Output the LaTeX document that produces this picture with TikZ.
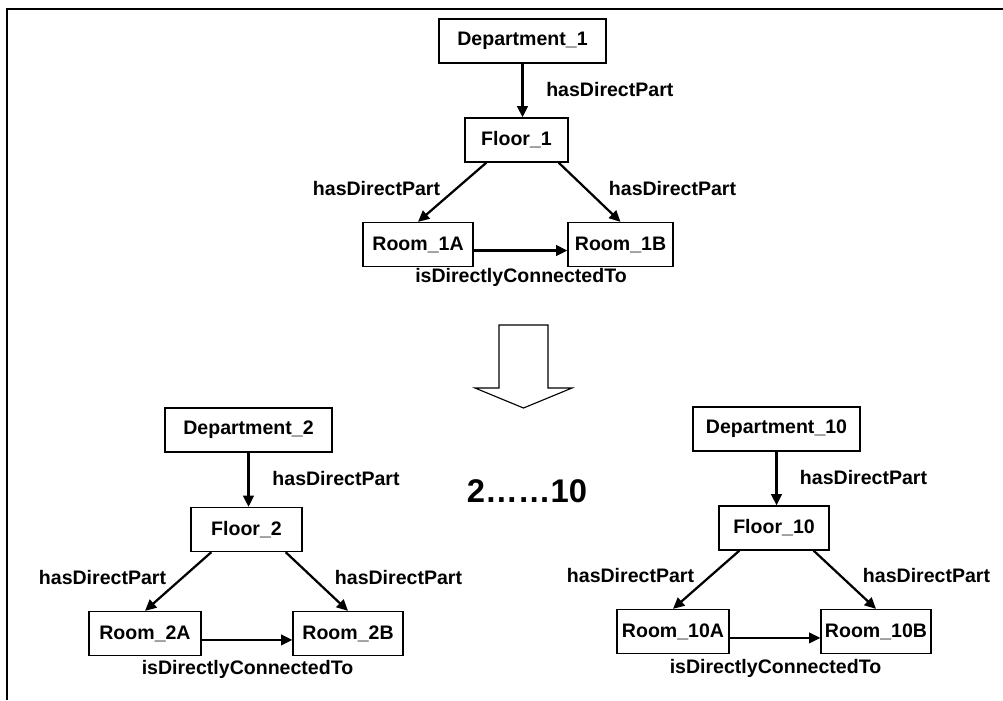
\documentclass[tikz,border=0pt]{standalone}
\usepackage{fontspec}
\setmainfont{Liberation Sans}
\usetikzlibrary{positioning, arrows.meta, calc}

\begin{document}
\begin{tikzpicture}[x=0.025cm, y=-0.025cm,
    entity/.style={draw, line width=0.9pt, minimum height=1.1cm, inner sep=0pt,
        font=\bfseries\fontsize{13.9}{16}\selectfont},
    rel/.style={inner sep=0pt, font=\bfseries\fontsize{13.9}{16}\selectfont},
    link/.style={line width=1.6pt, -{Triangle[length=8pt, width=7.5pt]}}]
    \useasboundingbox (0,0) rectangle (1003,700);

    % Frame (top and left edges only)
    \draw[line width=1.4pt] (7,700) -- (7,9) -- (1003,9);

    % First department
    \node[entity, minimum width=4.175cm] (dept1) at (522.5,41) {Department\_1};
    \node[entity, minimum width=2.575cm] (floor1) at (516.5,140) {Floor\_1};
    \node[entity, minimum width=2.75cm] (room1a) at (418,244.5) {Room\_1A};
    \node[entity, minimum width=2.625cm] (room1b) at (620.5,244.5) {Room\_1B};

    \draw[link] (dept1) -- (dept1 |- floor1.north);
    \draw[link] ([xshift=0.55cm]floor1.south west) -- (room1a.north);
    \draw[link] ([xshift=-0.25cm]floor1.south east) -- (room1b.north);
    \draw[link] ([yshift=-0.15cm]room1a.east) -- ([yshift=-0.15cm]room1b.west);

    \node[rel, anchor=west] (p1) at (546,90) {hasDirectPart};
    \node[rel] (p1a) at (376.5,189) {hasDirectPart};
    \node[rel] (p1b) at (672.5,189) {hasDirectPart};
    \node[rel] (c1) at (521,277) {isDirectlyConnectedTo};

    % Open arrow down to the copies
    \draw[line width=0.8pt, fill=white] (499,325) -- (548,325) -- (548,388)
        -- (572,388) -- (523.5,408) -- (475,388) -- (499,388) -- cycle;

    \node[font=\bfseries\fontsize{23.3}{28}\selectfont] (range) at (527,491) {2……10};

    % Second department
    \node[entity, minimum width=4.175cm] (dept2) at (248.5,430) {Department\_2};
    \node[entity, minimum width=2.775cm] (floor2) at (246.5,529.5) {Floor\_2};
    \node[entity, minimum width=2.8cm] (room2a) at (145,633.5) {Room\_2A};
    \node[entity, minimum width=2.75cm] (room2b) at (348,633.5) {Room\_2B};

    \draw[link] (dept2) -- (dept2 |- floor2.north);
    \draw[link] ([xshift=0.525cm]floor2.south west) -- (room2a.north);
    \draw[link] ([xshift=-0.425cm]floor2.south east) -- (room2b.north);
    \draw[link] ([yshift=-0.16cm]room2a.east) -- ([yshift=-0.16cm]room2b.west);

    \node[rel] (p2) at (336,478) {hasDirectPart};
    \node[rel] (p2a) at (102.5,577) {hasDirectPart};
    \node[rel] (p2b) at (398.5,577) {hasDirectPart};
    \node[rel] (c2) at (247.5,669) {isDirectlyConnectedTo};

    % Tenth department
    \node[entity, minimum width=4.175cm] (dept10) at (776.5,429) {Department\_10};
    \node[entity, minimum width=2.75cm] (floor10) at (774,528) {Floor\_10};
    \node[entity, minimum width=2.8cm] (room10a) at (673,631.5) {Room\_10A};
    \node[entity, minimum width=2.75cm] (room10b) at (876,631.5) {Room\_10B};

    \draw[link] (dept10) -- (dept10 |- floor10.north);
    \draw[link] ([xshift=0.525cm]floor10.south west) -- (room10a.north);
    \draw[link] ([xshift=-0.4cm]floor10.south east) -- (room10b.north);
    \draw[link] ([yshift=-0.16cm]room10a.east) -- ([yshift=-0.16cm]room10b.west);

    \node[rel] (p10) at (863.5,477) {hasDirectPart};
    \node[rel] (p10a) at (630.5,575) {hasDirectPart};
    \node[rel] (p10b) at (926.5,575) {hasDirectPart};
    \node[rel] (c10) at (775.5,668) {isDirectlyConnectedTo};
\end{tikzpicture}
\end{document}
